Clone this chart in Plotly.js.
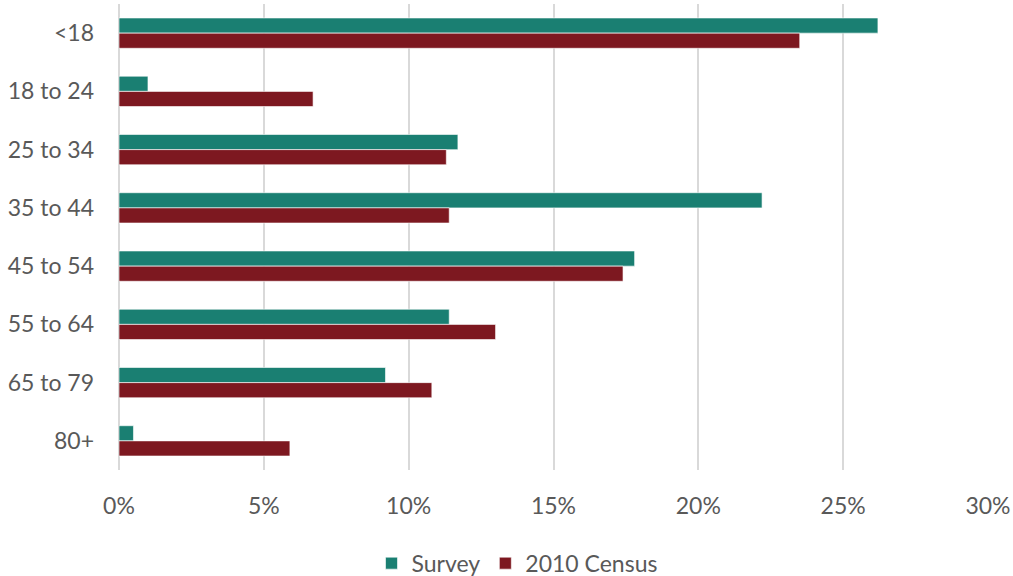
<!DOCTYPE html>
<html>
<head>
<meta charset="utf-8">
<script src="https://cdn.plot.ly/plotly-3.0.1.min.js"></script>
<style>html,body{margin:0;padding:0;background:#fff;}#chart{width:1013px;height:576px;}</style>
</head>
<body>
<div id="chart"></div>
<script>
const categories = ["<18", "18 to 24", "25 to 34", "35 to 44", "45 to 54", "55 to 64", "65 to 79", "80+"];
const surveyValues = [0.262, 0.010, 0.117, 0.222, 0.178, 0.114, 0.092, 0.005];
const censusValues = [0.235, 0.067, 0.113, 0.114, 0.174, 0.130, 0.108, 0.059];
const xTickValues = [0, 0.05, 0.10, 0.15, 0.20, 0.25, 0.30];
const xTickLabels = ["0%", "5%", "10%", "15%", "20%", "25%", "30%"];

const font = {family: "Lato, 'Open Sans', sans-serif", size: 23, color: "#595959"};

const traces = [
  {type: "bar", orientation: "h", name: "Survey", y: categories, x: surveyValues,
   marker: {color: "#1A7F72", line: {color: "rgba(255,255,255,0.6)", width: 1}}},
  {type: "bar", orientation: "h", name: "2010 Census", y: categories, x: censusValues,
   marker: {color: "#7D1820", line: {color: "rgba(255,255,255,0.6)", width: 1}}}
];

const layout = {
  width: 1013, height: 576,
  margin: {l: 119, r: 25, t: 4, b: 106, autoexpand: false},
  paper_bgcolor: "#fff", plot_bgcolor: "#fff",
  font: font,
  barmode: "group",
  bargap: 0.48,
  bargroupgap: 0,
  showlegend: true,
  legend: {orientation: "h", x: 0.458, xanchor: "center", y: -0.2, yanchor: "middle",
           font: font, itemwidth: 30, traceorder: "normal"},
  xaxis: {range: [0, 0.30], tickvals: xTickValues, ticktext: xTickLabels,
          showgrid: true, gridcolor: "#D9D9D9", gridwidth: 2,
          zeroline: true, zerolinecolor: "#D9D9D9", zerolinewidth: 2,
          showline: false, ticks: "", ticklabelstandoff: 20, tickfont: font, fixedrange: true,
          automargin: false},
  yaxis: {autorange: "reversed", type: "category", showgrid: false, zeroline: false,
          showline: false, ticks: "", ticklabelstandoff: 24, tickfont: font, automargin: false}
};

Plotly.newPlot("chart", traces, layout, {displayModeBar: false, staticPlot: true});
</script>
</body>
</html>
